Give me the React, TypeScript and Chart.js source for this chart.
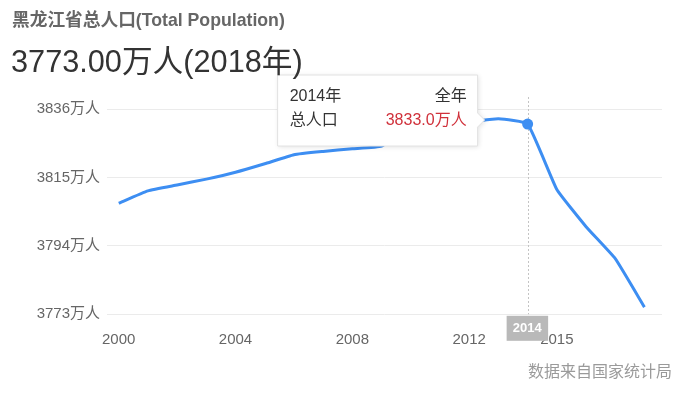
import React, { useEffect, useRef } from "react";
import { Chart, registerables } from "chart.js";

Chart.register(...registerables);

const titleText = "黑龙江省总人口(Total Population)";
const headlineText = "3773.00万人(2018年)";
const sourceText = "数据来自国家统计局";

const years = [2000, 2001, 2002, 2003, 2004, 2005, 2006, 2007, 2008, 2009, 2010, 2011, 2012, 2013, 2014, 2015, 2016, 2017, 2018];
const population = [3807.1, 3810.9, 3812.7, 3814.5, 3816.6, 3819.2, 3822.0, 3823.0, 3823.8, 3824.6, 3831.1, 3832.1, 3832.1, 3833.0, 3831.4, 3811.3, 3799.9, 3790.1, 3775.2];

const xTicks = [2000, 2004, 2008, 2012, 2015];
const yTicks = [3773, 3794, 3815, 3836];
const yUnit = "万人";

const highlightIndex = 14;
const tooltipTitleLeft = "2014年";
const tooltipTitleRight = "全年";
const tooltipLabel = "总人口";
const tooltipValueText = "3833.0万人";

const FONT = "'Liberation Sans', Arial, 'Noto Sans CJK SC', sans-serif";
const LINE_COLOR = "#3d8ef2";

const pointerPlugin = {
  id: "pointerPlugin",
  beforeDatasetsDraw(chart: any) {
    const { ctx, chartArea, scales } = chart;
    const px = scales.x.getPixelForValue(years[highlightIndex]);
    ctx.save();
    ctx.strokeStyle = "#c4c4c4";
    ctx.lineWidth = 1;
    ctx.setLineDash([2, 2]);
    ctx.beginPath();
    ctx.moveTo(Math.round(px) + 0.5, chartArea.top);
    ctx.lineTo(Math.round(px) + 0.5, chartArea.bottom);
    ctx.stroke();
    ctx.restore();
  },
  afterDraw(chart: any) {
    const { ctx, chartArea, scales } = chart;
    const px = scales.x.getPixelForValue(years[highlightIndex]);
    const py = scales.y.getPixelForValue(population[highlightIndex]);
    ctx.save();
    // axis pointer label
    ctx.fillStyle = "#b9b9b9";
    ctx.fillRect(px - 21, chartArea.bottom + 1.5, 41.5, 25);
    ctx.fillStyle = "#ffffff";
    ctx.font = `bold 13px ${FONT}`;
    ctx.textAlign = "center";
    ctx.textBaseline = "middle";
    ctx.fillText(String(years[highlightIndex]), px - 0.3, chartArea.bottom + 14.5);

    // tooltip box
    const w = 200;
    const h = 71;
    const right = px - 50;
    const left = right - w;
    const top = chartArea.top - 22;
    const arrowY = py - 4;
    ctx.shadowColor = "rgba(0,0,0,0.12)";
    ctx.shadowBlur = 5;
    ctx.shadowOffsetX = 1;
    ctx.shadowOffsetY = 1;
    ctx.fillStyle = "#ffffff";
    ctx.beginPath();
    ctx.moveTo(left, top);
    ctx.lineTo(right, top);
    ctx.lineTo(right, arrowY - 7);
    ctx.lineTo(right + 7, arrowY);
    ctx.lineTo(right, arrowY + 7);
    ctx.lineTo(right, top + h);
    ctx.lineTo(left, top + h);
    ctx.closePath();
    ctx.fill();
    ctx.shadowColor = "transparent";
    ctx.strokeStyle = "#e2e2e2";
    ctx.lineWidth = 1;
    ctx.stroke();

    ctx.font = `16px ${FONT}`;
    ctx.textBaseline = "middle";
    ctx.textAlign = "left";
    ctx.fillStyle = "#333333";
    ctx.fillText(tooltipTitleLeft, left + 12, top + 22);
    ctx.fillText(tooltipLabel, left + 12, top + 46);
    ctx.textAlign = "right";
    ctx.fillText(tooltipTitleRight, right - 11, top + 22);
    ctx.fillStyle = "#d0313b";
    ctx.fillText(tooltipValueText, right - 11, top + 46);
    ctx.restore();
  },
};

export default function App() {
  const canvasRef = useRef<HTMLCanvasElement | null>(null);

  useEffect(() => {
    document.body.style.margin = "0";
    const canvas = canvasRef.current;
    if (!canvas) return;
    const points = years.map((yr, i) => ({ x: yr, y: population[i] }));
    const chart = new Chart(canvas, {
      type: "line",
      data: {
        datasets: [
          {
            data: points,
            borderColor: LINE_COLOR,
            backgroundColor: LINE_COLOR,
            borderWidth: 3,
            tension: 0.12,
            fill: false,
            pointRadius: (c: any) => (c.dataIndex === highlightIndex ? 5.5 : 0),
            pointBorderWidth: 0,
            pointBackgroundColor: LINE_COLOR,
          },
        ],
      },
      options: {
        responsive: false,
        animation: false,
        devicePixelRatio: 1,
        layout: { padding: { top: 97, right: 26, left: 0, bottom: 0 } },
        plugins: { legend: { display: false }, tooltip: { enabled: false }, title: { display: false } },
        scales: {
          x: {
            type: "linear",
            min: 1999.6,
            max: 2018.6,
            grid: { display: false },
            border: { display: false },
            afterBuildTicks: (s: any) => {
              s.ticks = xTicks.map((v) => ({ value: v }));
            },
            afterFit: (s: any) => {
              s.height = 397 - 314.3;
            },
            ticks: {
              autoSkip: false,
              maxRotation: 0,
              padding: 9,
              color: "#666666",
              font: { size: 15, family: FONT },
              callback: (v: any) => String(v),
            },
          },
          y: {
            min: 3773,
            max: 3839.7,
            grid: { color: "#ebebeb", drawTicks: false },
            border: { display: false },
            afterBuildTicks: (s: any) => {
              s.ticks = yTicks.map((v) => ({ value: v }));
            },
            afterFit: (s: any) => {
              s.width = 107;
            },
            ticks: {
              padding: 7,
              color: "#666666",
              font: { size: 15, family: FONT },
              callback: (v: any) => `${v}${yUnit}`,
            },
          },
        },
      },
      plugins: [pointerPlugin],
    } as any);
    return () => chart.destroy();
  }, []);

  return (
    <div style={{ position: "relative", width: 688, height: 397, background: "#ffffff", overflow: "hidden" }}>
      <canvas ref={canvasRef} width={688} height={397} style={{ position: "absolute", left: 0, top: 0 }} />
      <div
        style={{
          position: "absolute",
          left: 12,
          top: 9,
          height: 22,
          lineHeight: "22px",
          fontSize: 17.7,
          fontWeight: "bold",
          color: "#666666",
          fontFamily: FONT,
          whiteSpace: "nowrap",
        }}
      >
        {titleText}
      </div>
      <div
        style={{
          position: "absolute",
          left: 11,
          top: 43,
          height: 38,
          lineHeight: "38px",
          fontSize: 30.7,
          color: "#333333",
          fontFamily: FONT,
          whiteSpace: "nowrap",
        }}
      >
        {headlineText}
      </div>
      <div
        style={{
          position: "absolute",
          right: 16,
          top: 361,
          height: 22,
          lineHeight: "22px",
          fontSize: 16,
          color: "#9a9a9a",
          fontFamily: FONT,
          whiteSpace: "nowrap",
        }}
      >
        {sourceText}
      </div>
    </div>
  );
}
